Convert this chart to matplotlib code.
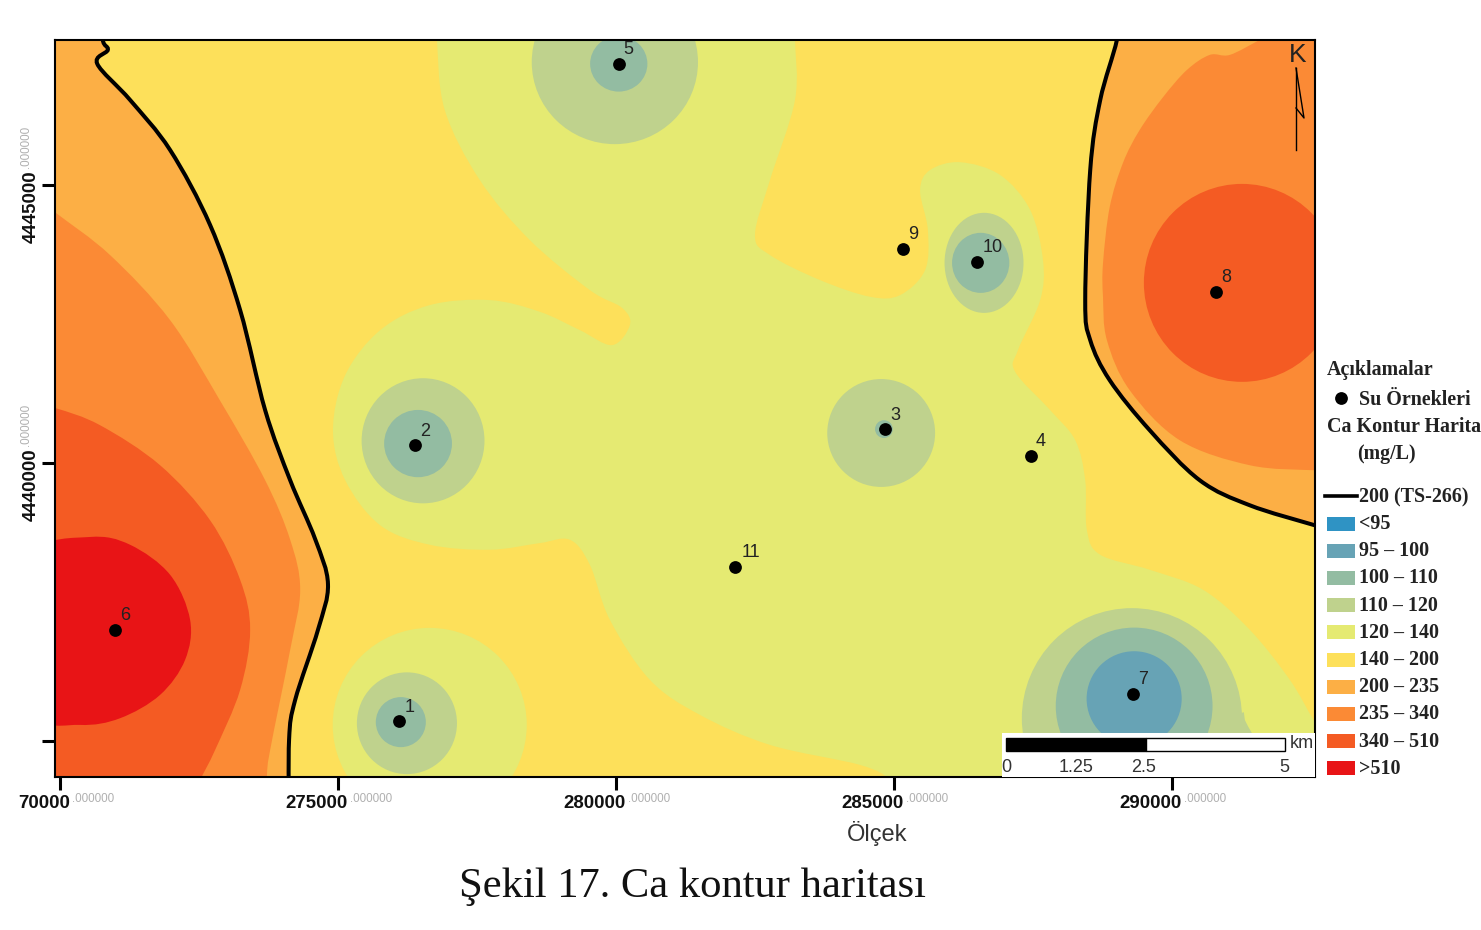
import numpy as np
import matplotlib
matplotlib.use("Agg")
import matplotlib.pyplot as plt
from matplotlib.patches import Ellipse, PathPatch, Rectangle
from matplotlib.path import Path
from matplotlib.lines import Line2D

G, Y = 1481, 930
SANS = "Liberation Sans"
SERIF = "Liberation Serif"

#### Veriler
# su ornekleri (dogu, kuzey - metre)
ornek_no = ["1", "2", "3", "4", "5", "6", "7", "8", "9", "10", "11"]
ornek_x = [276100, 276380, 284840, 287460, 280050, 270990, 289300, 290790, 285160, 286490, 282140]
ornek_y = [4435360, 4440320, 4440610, 4440130, 4447180, 4437000, 4435850, 4443080, 4443850, 4443620, 4438130]

# lejant
sinif_adi = ["<95", "95 – 100", "100 – 110", "110 – 120", "120 – 140",
             "140 – 200", "200 – 235", "235 – 340", "340 – 510", ">510"]
sinif_renk = ["#2F93C4", "#67A3B5", "#93BCA2", "#BFD28D", "#E5EA72",
              "#FDE05A", "#FCAF45", "#FB8A35", "#F45B23", "#E81416"]
RENK = dict(zip(sinif_adi, sinif_renk))

# kontur sinirlari: km olarak (270000 ve 4435000 noktasindan uzaklik)
bati_200 = [(0.77, 13.2), (0.77, 12.61), (0.86, 12.43), (0.67, 12.18), (1.26, 11.53), (1.98, 10.63),
            (2.70, 9.28), (3.24, 7.75), (3.69, 5.95), (4.14, 4.69), (4.59, 3.63), (4.82, 2.82),
            (4.64, 2.00), (4.23, 0.74), (4.12, 0.02), (4.12, -1.5)]
bati_200_kose = [(-2, -1.5), (-2, 13.2)]
dogu_200 = [(19.06, 13.2), (19.01, 12.61), (18.71, 11.53), (18.53, 10.27), (18.44, 7.93), (18.53, 7.21),
            (18.88, 6.49), (19.60, 5.59), (20.50, 4.69), (21.40, 4.24), (22.57, 3.88), (23.2, 3.7)]
dogu_200_kose = [(25, 3.7), (25, 13.2)]

bati_235 = [(-0.72, 10.0), (-0.09, 9.51), (0.90, 8.74), (1.98, 7.57), (2.88, 6.12), (3.69, 4.69),
            (4.14, 3.62), (4.32, 2.72), (4.14, 1.64), (3.78, -0.16), (3.72, -0.65), (3.69, -1.5)]
bati_235_kose = [(-2, -1.5), (-2, 10.0)]
dogu_235 = [(21.94, 12.79), (21.58, 12.61), (21.04, 12.34), (20.68, 12.34), (20.27, 12.07),
            (19.84, 11.58), (19.42, 10.99), (19.12, 10.40), (18.88, 9.60), (18.76, 8.59), (18.76, 7.99),
            (18.83, 7.21), (19.24, 6.31), (20.14, 5.41), (21.40, 4.96), (22.57, 4.87), (23.2, 4.87)]
dogu_235_kose = [(25, 4.87), (25, 13.2), (21.94, 13.2)]
bati_340 = [(-0.72, 6.13), (-0.09, 5.99), (0.72, 5.68), (1.80, 4.96), (2.70, 3.97), (3.24, 2.90),
            (3.42, 2.00), (3.24, 0.92), (2.79, -0.16), (2.50, -0.75), (2.2, -1.5)]
bati_340_kose = [(-2, -1.5), (-2, 6.13)]
bati_510 = [(-0.54, 3.40), (0.54, 3.67), (1.26, 3.53), (1.98, 2.99), (2.34, 2.18), (2.25, 1.46),
            (1.80, 0.83), (1.08, 0.41), (0.36, 0.29), (-0.54, 0.47), (-1.44, 2.0)]

orta_120 = [(6.78, 12.97), (6.78, 12.61), (6.92, 11.35), (7.55, 10.09), (8.45, 9.01), (9.53, 8.11),
            (10.11, 7.79), (10.25, 7.48), (9.93, 7.12), (9.35, 7.39), (8.63, 7.72), (7.73, 7.93),
            (6.65, 7.84), (5.76, 7.39), (5.13, 6.58), (4.91, 5.59), (5.13, 4.69), (5.76, 3.88),
            (6.65, 3.53), (7.73, 3.44), (8.63, 3.56), (9.17, 3.62), (9.53, 3.17), (9.89, 2.18),
            (10.61, 1.10), (11.51, 0.47), (12.77, -0.07), (14.39, -0.43), (14.93, -0.70), (15.11, -1.06),
            (23.02, -1.06), (23.02, -0.34), (22.57, 0.34), (22.12, 1.10), (21.40, 2.00), (20.56, 2.72),
            (19.60, 3.08), (18.71, 3.35), (18.47, 3.79), (18.44, 4.69), (18.26, 5.41), (17.81, 5.95),
            (17.18, 6.64), (17.23, 7.03), (17.63, 7.93), (17.68, 8.65), (17.45, 9.55), (16.91, 10.18),
            (16.19, 10.41), (15.65, 10.27), (15.47, 9.91), (15.61, 9.19), (15.56, 8.47), (15.11, 8.02),
            (14.57, 7.99), (13.67, 8.29), (12.77, 8.74), (12.50, 9.10), (12.77, 10.09), (13.22, 11.53),
            (13.22, 12.61), (13.22, 12.97)]
cikinti_110 = [(21.26, 0.5), (21.32, 0.36), (21.44, 0.14), (21.6, -0.1), (21.0, -0.1)]

# kuyu cevresindeki halkalar: (sinif, merkez x, merkez y, genislik, yukseklik) km
halkalar = [
    ("120 – 140", 6.65, 0.29, 3.49, 3.49),
    ("340 – 510", 21.26, 8.24, 3.53, 3.56),
    ("110 – 120", 9.98, 12.21, 2.99, 2.95),
    ("110 – 120", 6.53, 5.40, 2.21, 2.25),
    ("110 – 120", 14.77, 5.54, 1.94, 1.94),
    ("110 – 120", 6.24, 0.32, 1.80, 1.83),
    ("110 – 120", 16.62, 8.60, 1.42, 1.80),
    ("110 – 120", 19.28, 0.41, 3.96, 3.96),
    ("100 – 110", 10.05, 12.18, 1.03, 1.00),
    ("100 – 110", 6.44, 5.35, 1.22, 1.21),
    ("100 – 110", 14.82, 5.61, 0.32, 0.32),
    ("100 – 110", 6.13, 0.34, 0.90, 0.90),
    ("100 – 110", 16.56, 8.60, 1.03, 1.08),
    ("100 – 110", 19.32, 0.63, 2.82, 2.82),
    ("95 – 100", 19.32, 0.76, 1.71, 1.71),
]

x_tik = [270000, 275000, 280000, 285000, 290000]
x_tik_adi = ["70000", "275000", "280000", "285000", "290000"]
y_tik = [4445000, 4440000, 4435000]
y_tik_adi = ["4445000", "4440000", ""]


#### Fonksiyonlar
def metre(noktalar):
    p = np.array(noktalar, dtype=float)
    return np.column_stack((270000 + p[:, 0] * 1000, 4435000 + p[:, 1] * 1000))


def egri(noktalar, kapali=True, kose=None):
    """Noktalardan gecen yumusak yol (Catmull-Rom -> bezier)"""
    p = metre(noktalar)
    n = len(p)
    kisim = n if kapali else n - 1
    verts = [p[0]]
    codes = [Path.MOVETO]
    for i in range(kisim):
        if kapali:
            p0, p1, p2, p3 = p[(i - 1) % n], p[i], p[(i + 1) % n], p[(i + 2) % n]
        else:
            p0, p1, p2, p3 = p[max(i - 1, 0)], p[i], p[i + 1], p[min(i + 2, n - 1)]
        verts += [p1 + (p2 - p0) / 6, p2 - (p3 - p1) / 6, p2]
        codes += [Path.CURVE4] * 3
    if kose:
        # harita disindaki koselere duz cizgi
        for k in metre(kose):
            verts.append(k)
            codes.append(Path.LINETO)
        verts.append(p[0])
        codes.append(Path.CLOSEPOLY)
    return Path(verts, codes)


def kontur(ax, noktalar, sinif, kose=None):
    yol = egri(noktalar, kapali=kose is None, kose=kose)
    ax.add_patch(PathPatch(yol, facecolor=RENK[sinif], edgecolor="none", lw=0))


def fx(x):
    return x / G


def fy(y):
    return 1 - y / Y


def yazi(x, y, s, **kw):
    kw.setdefault("zorder", 10)
    fig.text(fx(x), fy(y), s, **kw)


def kutu(x0, y0, x1, y1, **kw):
    fig.add_artist(Rectangle((fx(x0), fy(y1)), (x1 - x0) / G, (y1 - y0) / Y,
                             transform=fig.transFigure, zorder=9, **kw))


def cizgi(xs, ys, **kw):
    fig.add_artist(Line2D([fx(v) for v in xs], [fy(v) for v in ys],
                          transform=fig.transFigure, zorder=9, **kw))


#### Harita
fig = plt.figure(figsize=(G / 100, Y / 100), dpi=100)
ax = fig.add_axes([55 / G, 1 - 777 / Y, 1260 / G, 737 / Y])
ax.set_xlim(269910, 292573)
ax.set_ylim(4434353, 4447608)
ax.set_facecolor(RENK["140 – 200"])

kontur(ax, orta_120, "120 – 140")
kontur(ax, bati_200, "200 – 235", bati_200_kose)
kontur(ax, dogu_200, "200 – 235", dogu_200_kose)
kontur(ax, bati_235, "235 – 340", bati_235_kose)
kontur(ax, dogu_235, "235 – 340", dogu_235_kose)
kontur(ax, bati_340, "340 – 510", bati_340_kose)
kontur(ax, bati_510, ">510")

for sinif, mx, my, gen, yuk in halkalar:
    ax.add_patch(Ellipse((270000 + mx * 1000, 4435000 + my * 1000), gen * 1000, yuk * 1000,
                         facecolor=RENK[sinif], edgecolor="none", lw=0))
kontur(ax, cikinti_110, "110 – 120")

for hat in (bati_200, dogu_200):
    ax.add_patch(PathPatch(egri(hat, kapali=False), facecolor="none", edgecolor="black",
                           lw=2.9, capstyle="butt", zorder=3))

ax.plot(ornek_x, ornek_y, "o", color="black", markersize=9.2, markeredgewidth=0, zorder=4)
for no, ox, oy in zip(ornek_no, ornek_x, ornek_y):
    ax.annotate(no, xy=(ox, oy), xytext=(16 if len(no) == 2 else 10, 14), textcoords="offset pixels",
                ha="center", va="center", family=SANS, fontsize=13, color="#222222", zorder=5)

# eksenler
for kenar in ax.spines.values():
    kenar.set_linewidth(1.5)
ax.set_xticks(x_tik)
ax.set_yticks(y_tik)
ax.set_xticklabels([])
ax.set_yticklabels([])
ax.tick_params(length=9.5, width=2.2)

for tik, ad in zip(x_tik, x_tik_adi):
    ax.annotate(ad, xy=(tik, 0), xycoords=("data", "axes fraction"), xytext=(10, -27),
                textcoords="offset pixels", ha="right", va="center",
                family=SANS, weight="bold", fontsize=13.4, color="#111111")
    ax.annotate(".000000", xy=(tik, 0), xycoords=("data", "axes fraction"), xytext=(12, -22),
                textcoords="offset pixels", ha="left", va="center",
                family=SANS, fontsize=8.4, color="#b0b0b0")
for tik, ad in zip(y_tik, y_tik_adi):
    if ad == "":
        continue
    ax.annotate(ad, xy=(0, tik), xycoords=("axes fraction", "data"), xytext=(-24, -58),
                textcoords="offset pixels", ha="center", va="bottom", rotation=90,
                family=SANS, weight="bold", fontsize=13.4, color="#111111")
    ax.annotate(".000000", xy=(0, tik), xycoords=("axes fraction", "data"), xytext=(-29, 17),
                textcoords="offset pixels", ha="center", va="bottom", rotation=90,
                family=SANS, fontsize=8.4, color="#b0b0b0")

# olcek
kutu(1002, 733, 1315, 777, facecolor="white", edgecolor="none")
kutu(1006, 738, 1146, 751, facecolor="black", edgecolor="black", lw=1)
kutu(1146, 738, 1285, 751, facecolor="white", edgecolor="black", lw=1)
for px, s in zip([1006, 1076, 1144, 1284], ["0", "1.25", "2.5", "5"]):
    yazi(px, 767, s, ha="center", va="center", family=SANS, fontsize=13, color="#333333")
yazi(1302, 743, "km", ha="center", va="center", family=SANS, fontsize=13, color="#333333")

# kuzey oku
yazi(1298, 55, "K", ha="center", va="center", family=SANS, fontsize=19, color="#222222")
cizgi([1296, 1296], [68, 150], color="black", lw=1)
cizgi([1296, 1304, 1296], [68, 118, 108], color="black", lw=1)

yazi(877, 834, "Ölçek", ha="center", va="center", family=SANS, fontsize=17, color="#333333")
yazi(692, 887, "Şekil 17. Ca kontur haritası", ha="center", va="center", family=SERIF, fontsize=30.7, color="#111111")

#### Lejant
bas = dict(family=SERIF, weight="bold", fontsize=14.4, color="#222222", va="center")
yazi(1327, 370, "Açıklamalar", **bas)
cizgi([1341], [398], marker="o", color="black", markersize=9.2, markeredgewidth=0, linestyle="none")
yazi(1359, 400, "Su Örnekleri", **bas)
yazi(1327, 427, "Ca Kontur Harita", **bas)
yazi(1357, 454, "(mg/L)", **bas)
cizgi([1325, 1357], [496, 496], color="black", lw=2.6)
yazi(1359, 497, "200 (TS-266)", **bas)
for i, (ad, renk) in enumerate(zip(sinif_adi, sinif_renk)):
    orta = 523.5 + i * 27.2
    kutu(1327, orta - 7, 1355, orta + 7, facecolor=renk, edgecolor="none")
    yazi(1359, orta + 0.5, ad, **bas)

plt.savefig("out.png", dpi=100)
